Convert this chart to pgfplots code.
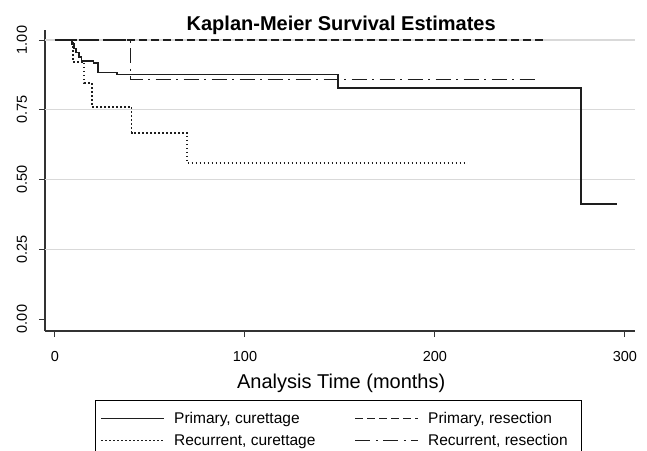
\documentclass[border=0pt]{standalone}
\usepackage{pgfplots}
\pgfplotsset{compat=1.18}
\usepackage{fontspec}
\setmainfont{Liberation Sans}
\definecolor{kmline}{HTML}{1E1E1E}
\definecolor{kmgrid}{HTML}{D9D9D9}
\definecolor{kmaxis}{HTML}{333333}

\begin{document}
\begin{tikzpicture}
\begin{axis}[
    at={(0,0)}, anchor=south west,
    scale only axis,
    width=590pt, height=301pt,
    xmin=-5.26, xmax=305.3,
    ymin=-0.043, ymax=1.036,
    axis x line*=bottom, axis y line*=left,
    axis line style={kmaxis, line width=1.4pt},
    xtick={0,100,200,300},
    ytick={0,0.25,0.5,0.75,1},
    tick align=outside,
    major tick length=6pt,
    tick style={kmaxis, line width=1pt},
    extra y ticks={0.25,0.5,0.75,1},
    extra y tick labels={},
    extra y tick style={ymajorgrids=true, major tick length=0pt},
    grid style={kmgrid, line width=1.2pt},
    /pgf/number format/assume math mode=true,
    xticklabel style={font=\fontsize{14.5}{17}\selectfont, anchor=base, yshift=-24pt},
    yticklabel style={font=\fontsize{14.5}{17}\selectfont, xshift=-12pt, rotate=90, anchor=base,
        /pgf/number format/.cd, fixed, fixed zerofill, precision=2},
    title={\bfseries Kaplan-Meier Survival Estimates},
    title style={font=\fontsize{20}{24}\selectfont, at={(axis description cs:0.502,1)}, anchor=base, yshift=-7pt},
    xlabel={Analysis Time (months)},
    xlabel style={font=\fontsize{20}{24}\selectfont, at={(axis description cs:0.502,0)}, anchor=base, yshift=-57pt},
    legend columns=2,
    legend cell align=left,
    legend image code/.code={\draw[#1] (0pt,0pt) -- (63pt,0pt);},
    legend style={
        at={(axis description cs:0.0847,-0.229)}, anchor=north west,
        draw=black, line width=1pt,
        inner xsep=5pt, inner ysep=7pt,
        font=\fontsize{15.5}{18}\selectfont,
        nodes={inner xsep=9pt, inner ysep=2pt, text height=14pt, text depth=4pt},
        /tikz/every even column/.append style={column sep=30pt},
    },
]
% Primary, curettage
\addplot[const plot, kmline, line width=1.7pt] coordinates {
    (0,1) (8.8,0.985) (10,0.97) (11.2,0.955) (12.5,0.94) (14,0.926)
    (20.2,0.917) (22.8,0.884) (32.5,0.877) (149.1,0.829) (276.8,0.412) (296,0.412)
};
\addlegendentry{Primary, curettage}
% Primary, resection
\addplot[const plot, kmline, line width=1.7pt, dash pattern=on 8pt off 4pt] coordinates {
    (0,1) (258.8,1)
};
\addlegendentry{Primary, resection}
% Recurrent, curettage
\addplot[const plot, kmline, line width=1.7pt, dash pattern=on 1.5pt off 2.5pt] coordinates {
    (0,1) (9.3,0.922) (15.4,0.846) (19.3,0.761) (40.3,0.668) (69.6,0.558) (215.8,0.558)
};
\addlegendentry{Recurrent, curettage}
% Recurrent, resection
\addplot[const plot, kmline, line width=1.7pt, dash pattern=on 15pt off 5.5pt on 2pt off 5.5pt] coordinates {
    (0,1) (39.8,0.859) (252.6,0.859)
};
\addlegendentry{Recurrent, resection}
\end{axis}
\pgfresetboundingbox
\path (-45pt,-119pt) rectangle (602pt,331pt);
\end{tikzpicture}
\end{document}
